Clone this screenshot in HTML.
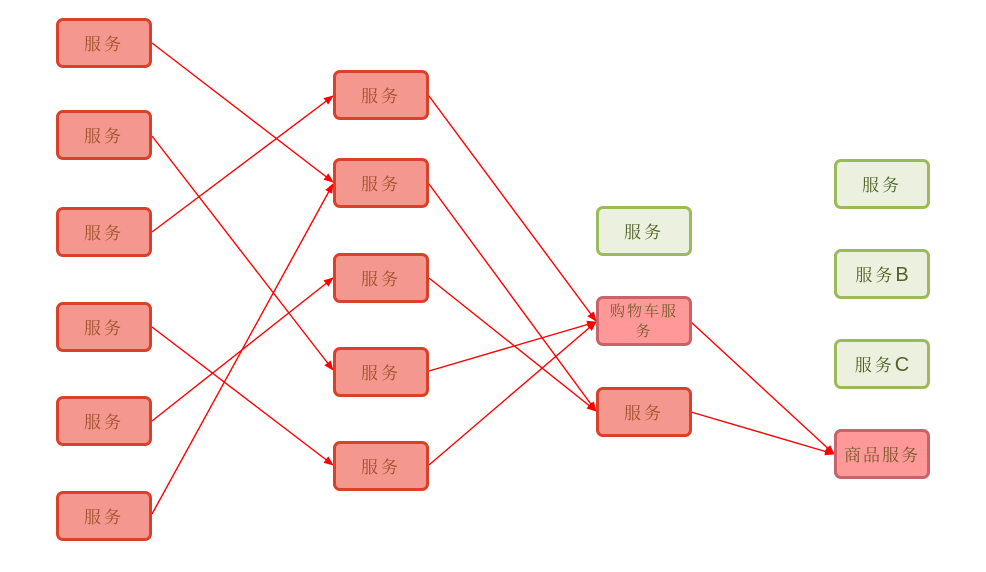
<!DOCTYPE html>
<html><head><meta charset="utf-8"><style>
html,body{margin:0;padding:0;background:#fff;width:986px;height:572px;overflow:hidden}
.b{position:absolute;width:96px;height:50px;border-radius:7px;box-sizing:border-box;display:flex;align-items:center;justify-content:center;text-align:center;font-family:"Noto Serif CJK SC","Liberation Serif",serif;font-size:17px;letter-spacing:3px;line-height:22px}
.r{background:#f4978e;border:3px solid #d9412b;color:#a0522d}
.g{background:#ebf1de;border:3px solid #9bbb59;color:#4f6228}
.p{background:#ff9999;border:3px solid #c9636b;color:#7a5a2a}
svg{position:absolute;left:0;top:0}
</style></head><body>
<svg width="986" height="572">
<defs><marker id="a" markerWidth="10" markerHeight="8" refX="9" refY="4" orient="auto" markerUnits="userSpaceOnUse"><path d="M0,0 L10,4 L0,8 z" fill="#f00"/></marker></defs>
<g stroke="#f00" stroke-width="1.4" fill="none" marker-end="url(#a)">
<line x1="152" y1="43" x2="333" y2="182"/>
<line x1="152" y1="136" x2="333" y2="370"/>
<line x1="152" y1="232" x2="333" y2="96"/>
<line x1="152" y1="327" x2="333" y2="465"/>
<line x1="152" y1="421" x2="333" y2="278"/>
<line x1="152" y1="514" x2="333" y2="184"/>
<line x1="429" y1="96" x2="596" y2="321"/>
<line x1="429" y1="184" x2="596" y2="411"/>
<line x1="429" y1="278" x2="596" y2="411"/>
<line x1="429" y1="371" x2="596" y2="322"/>
<line x1="429" y1="465" x2="596" y2="322"/>
<line x1="691" y1="322" x2="834" y2="454"/>
<line x1="691" y1="412" x2="834" y2="454"/>
</g></svg>
<div class="b r" style="left:56px;top:18px">服务</div>
<div class="b r" style="left:56px;top:110px">服务</div>
<div class="b r" style="left:56px;top:207px">服务</div>
<div class="b r" style="left:56px;top:302px">服务</div>
<div class="b r" style="left:56px;top:396px">服务</div>
<div class="b r" style="left:56px;top:491px">服务</div>
<div class="b r" style="left:333px;top:70px">服务</div>
<div class="b r" style="left:333px;top:158px">服务</div>
<div class="b r" style="left:333px;top:253px">服务</div>
<div class="b r" style="left:333px;top:347px">服务</div>
<div class="b r" style="left:333px;top:441px">服务</div>
<div class="b g" style="left:596px;top:206px">服务</div>
<div class="b p" style="left:596px;top:296px;font-size:15px;letter-spacing:2px;line-height:20px;padding:0 6px">购物车服务</div>
<div class="b r" style="left:596px;top:387px">服务</div>
<div class="b g" style="left:834px;top:159px">服务</div>
<div class="b g" style="left:834px;top:249px"><span>服务<span style="font-family:'Liberation Sans',sans-serif;font-size:20px;letter-spacing:0">B</span></span></div>
<div class="b g" style="left:834px;top:339px"><span>服务<span style="font-family:'Liberation Sans',sans-serif;font-size:20px;letter-spacing:0">C</span></span></div>
<div class="b p" style="left:834px;top:429px;letter-spacing:2px">商品服务</div>
</body></html>
